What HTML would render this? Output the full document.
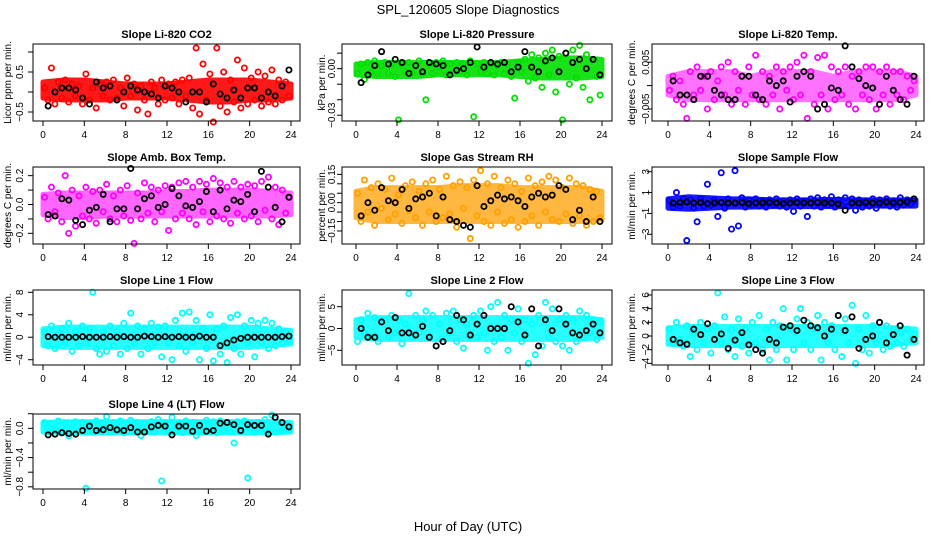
<!DOCTYPE html>
<html><head><meta charset="utf-8"><style>
html,body{margin:0;padding:0;background:#fff}
svg{display:block;font-family:"Liberation Sans",sans-serif}
</style></head><body>
<svg id="chart" width="936" height="540" viewBox="0 0 936 540" xmlns="http://www.w3.org/2000/svg">
<text x="468" y="14" font-size="13" text-anchor="middle">SPL_120605  Slope Diagnostics</text>
<text x="468" y="531" font-size="13" text-anchor="middle">Hour of Day (UTC)</text>
</svg>
<script>
const xTicks=[0,4,8,12,16,20,24];
const bandHours=[0,2,4,6,8,10,12,14,16,18,20,22,24];
const co2Col=[0.1,-0.2,0.6,-0.3,0.25,-0.15,0.3,-0.25,0.2,-0.1,0.15,-0.3,0.45,-0.2,0.1,-0.4,0.2,-0.1,0.25,-0.2,0.3,-0.15,0.1,-0.35,0.35,-0.1,0.2,-0.45,0.15,-0.2,-0.55,0.25,0.1,-0.3,0.3,-0.2,0.2,-0.15,0.25,-0.3,0.3,-0.1,0.35,-0.4,1.1,-0.55,0.7,-0.2,0.45,-0.75,1.1,-0.35,0.5,-0.5,0.3,-0.25,0.8,-0.4,0.6,-0.3,0.35,-0.2,0.5,-0.35,0.4,-0.25,0.55,-0.3,0.3,-0.2,0.25,-0.1];
const co2Blk=[-0.35,0,0.1,0.1,0.05,-0.15,-0.3,0.25,0.1,0.15,-0.2,0,0.15,0.05,0,-0.05,-0.15,0.15,0.1,0,-0.25,0,0,-0.25,0.2,-0.05,-0.15,0.05,-0.15,0.1,0.1,-0.15,0,-0.1,0.15,0.55];
const co2Hi=[0.25,0.3,0.3,0.25,0.2,0.2,0.2,0.25,0.3,0.3,0.3,0.25,0.2];
const co2Lo=[-0.15,-0.2,-0.2,-0.2,-0.15,-0.15,-0.15,-0.2,-0.25,-0.25,-0.2,-0.2,-0.15];
const presCol=[-0.003,0.003,-0.007,0.004,-0.002,0.005,-0.004,0.002,0.004,-0.003,0.003,-0.005,-0.033,0.003,-0.002,0.004,-0.003,0.002,0.005,-0.004,-0.02,0.003,-0.003,0.004,-0.002,0.005,-0.004,0.003,-0.003,0.004,-0.002,0.003,-0.004,0.005,-0.031,0.003,-0.002,0.004,-0.003,0.003,-0.004,0.002,0.004,-0.003,0.003,-0.005,-0.019,0.004,-0.002,0.006,-0.008,0.009,-0.006,0.007,-0.012,0.01,-0.004,0.012,-0.015,0.008,-0.033,0.01,-0.01,0.012,-0.006,0.015,-0.012,0.009,-0.02,0.006,-0.005,-0.017];
const presBlk=[-0.009,-0.004,0.002,0.011,0.003,0.006,0.004,-0.003,0.002,-0.002,0.004,0.003,0.002,-0.004,-0.001,0.0,0.004,0.014,0.001,0.004,0.003,0.004,-0.002,0.001,0.011,0.001,-0.002,0.005,0.007,-0.002,0.01,0.004,0.006,0.0,0.006,-0.004];
const presHi=[0.003,0.004,0.004,0.004,0.004,0.004,0.004,0.004,0.005,0.006,0.007,0.007,0.006];
const presLo=[-0.004,-0.005,-0.005,-0.005,-0.004,-0.004,-0.004,-0.004,-0.005,-0.006,-0.006,-0.006,-0.005];
const tempCol=[-0.001,0.002,-0.003,0.001,-0.004,-0.007,0.003,-0.002,0.004,-0.001,0.002,-0.005,0.003,-0.003,0.001,0.004,-0.002,0.005,-0.004,0.003,-0.001,0.002,-0.004,0.004,-0.002,0.0065,-0.003,0.003,-0.004,0.002,-0.002,0.004,-0.005,0.003,-0.001,0.004,-0.003,0.005,-0.002,0.0065,-0.007,0.003,-0.004,0.006,-0.002,0.0065,-0.005,0.004,-0.003,0.003,-0.002,0.004,-0.004,0.002,-0.005,0.003,-0.002,0.004,-0.003,0.004,-0.005,0.003,-0.002,0.004,-0.004,0.003,-0.002,0.003,-0.003,0.002,-0.001,0.001];
const tempBlk=[0.001,-0.002,-0.002,-0.003,0.002,0.002,-0.001,-0.002,-0.003,-0.003,0.002,0.002,-0.002,-0.003,0.001,0.0,0.001,-0.0035,0.002,0.003,0.002,-0.005,-0.004,-0.0005,-0.001,0.0085,0.004,0.0015,0.0,-0.0005,-0.004,0.002,-0.001,-0.003,-0.004,0.002];
const tempHi=[0.002,0.003,0.003,0.003,0.002,0.003,0.003,0.003,0.002,0.003,0.003,0.003,0.002];
const tempLo=[-0.002,-0.003,-0.003,-0.003,-0.003,-0.003,-0.003,-0.003,-0.003,-0.003,-0.003,-0.003,-0.002];
const ambCol=[0.05,-0.1,0.12,-0.05,0.08,-0.12,0.2,-0.2,0.1,-0.15,0.06,-0.08,0.12,-0.1,0.09,-0.13,0.1,-0.05,0.14,-0.1,0.06,-0.12,0.1,-0.08,0.13,-0.11,-0.27,0.08,-0.1,0.15,-0.06,0.12,-0.12,0.1,-0.05,0.13,-0.18,0.12,-0.1,0.15,-0.06,0.16,-0.1,0.12,-0.14,0.16,-0.05,0.14,-0.12,0.18,-0.08,0.15,-0.1,0.12,-0.13,0.16,-0.06,0.12,-0.1,0.14,-0.08,0.13,-0.12,0.16,-0.04,0.19,-0.1,0.12,-0.14,0.1,-0.06,0.05];
const ambBlk=[-0.07,-0.08,0.04,0.03,-0.11,-0.14,-0.04,-0.02,0.07,-0.12,-0.03,-0.03,0.25,-0.03,0.04,0.06,-0.02,0.0,0.11,0.06,-0.01,-0.02,0.02,0.09,-0.05,0.1,-0.03,0.03,0.02,0.07,-0.05,0.23,0.12,-0.02,-0.12,0.05];
const ambHi=[0.07,0.08,0.08,0.08,0.08,0.08,0.09,0.09,0.1,0.1,0.1,0.09,0.08];
const ambLo=[-0.07,-0.09,-0.09,-0.08,-0.08,-0.08,-0.08,-0.08,-0.08,-0.08,-0.08,-0.08,-0.07];
const rhCol=[0.05,-0.1,0.12,-0.05,0.08,-0.12,0.1,-0.03,0.07,-0.09,0.13,-0.06,0.04,-0.11,0.09,-0.04,0.11,-0.08,0.06,-0.12,0.1,-0.05,0.12,-0.1,0.07,-0.08,0.14,-0.06,0.09,-0.13,0.11,-0.03,0.08,-0.19,0.12,-0.07,0.17,-0.1,0.1,-0.12,0.14,-0.05,0.08,-0.11,0.12,-0.09,0.1,-0.13,0.06,-0.1,0.13,-0.07,0.09,-0.12,0.11,-0.05,0.14,-0.09,0.12,-0.1,0.08,-0.06,0.13,-0.11,0.1,-0.07,0.09,-0.12,0.07,-0.1,0.06,-0.08];
const rhBlk=[-0.07,0.0,-0.04,0.08,0.01,0.0,0.07,-0.03,0.02,0.03,0.05,-0.07,0.03,-0.09,-0.1,-0.12,-0.13,0.09,-0.02,0.01,0.04,0.02,0.03,0.01,-0.02,0.03,0.05,0.03,0.04,0.09,0.07,-0.09,-0.04,-0.1,0.03,-0.1];
const rhHi=[0.06,0.08,0.08,0.08,0.08,0.09,0.09,0.09,0.08,0.08,0.08,0.08,0.06];
const rhLo=[-0.08,-0.1,-0.1,-0.1,-0.1,-0.1,-0.1,-0.1,-0.1,-0.1,-0.1,-0.1,-0.09];
const sfCol=[0.2,-0.4,1.0,-0.3,0.4,-3.6,0.3,-0.5,-1.8,0.4,-0.3,1.8,-0.2,0.3,-1.3,2.9,-0.5,0.4,-2.5,3.1,-2.2,0.5,-0.4,0.3,-0.2,0.4,-0.3,0.2,-0.4,0.3,-0.2,0.4,-0.3,0.2,-0.4,0.3,-0.8,0.4,-0.3,0.2,-1.3,0.4,-0.3,0.5,-0.4,0.3,-0.2,0.6,-0.4,0.3,-0.2,0.5,-0.3,0.4,-0.7,0.3,-0.4,0.2,-0.3,0.4,-0.5,0.3,-0.2,0.4,-0.3,0.2,-0.4,0.5,-0.2,0.3,-0.1,0.2];
const sfBlk=[0.0,0.05,0.1,0.0,0.05,-0.05,0.0,0.05,0.0,0.0,0.05,-0.05,0.0,0.0,0.05,0.0,-0.05,0.0,0.05,0.0,0.0,0.05,0.0,0.0,-0.1,-0.7,0.0,0.0,0.05,0.0,0.0,0.1,0.0,0.05,0.1,0.4];
const sfHi=[0.4,0.6,0.5,0.4,0.4,0.3,0.3,0.3,0.35,0.3,0.3,0.3,0.3];
const sfLo=[-0.5,-0.6,-0.5,-0.4,-0.4,-0.35,-0.35,-0.35,-0.35,-0.35,-0.3,-0.3,-0.3];
const l1Col=[1,-1.5,2,-2,0.5,1.5,-1,2.5,-2.5,1,-1.5,2,-1,1.5,8,-2,-3,1,-2.5,2,-1.5,1,-3,2.5,-2,4.3,-1,2,-3,1.5,-2,2.5,-1,1.8,-3.5,2,-1,-4,3,-1.5,4.3,-2.5,4.5,-1,3,-4,1.5,-2,4,-4.2,1.5,-3,2,-4.5,3.5,-2,4,-3,2,-1,3,-3.5,2.5,-1,3,-2,2.5,-1.5,1.5,-1,1,-0.5];
const l1Blk=[0.1,0,0,0,0,0.1,0,0,0,0.1,0,0.1,0,0,0.2,0.1,0,0.1,0,0.1,0,0,0.2,0,0,-1.5,-1,-0.5,-0.2,0,0,0,0,0,0.1,0.2];
const l1Hi=[1.5,1.8,1.8,1.8,1.8,1.8,1.8,1.8,1.8,1.8,1.8,1.5,1.2];
const l1Lo=[-1.5,-1.8,-1.8,-1.8,-1.8,-1.8,-1.8,-1.8,-1.8,-1.8,-1.8,-1.5,-1.2];
const l2Col=[-3,2,-1,3.5,-2,2.5,-3,1.5,2,-2,3,-1,2,-3.5,1,8,-2,3,-1,2,4,-2,3,-4,1,-3,3.5,-1,4,-3,2,-4.5,1,-2,3,-2,4,-1,-5,5,-3,6,-2,3,-5,2,-1,4.5,-3,2,-8,1,-6,3,-4,6,-2,4.5,-3,2,-4,3,-5,2,-3,4,-2,3,-1,2,-2.5,1.5];
const l2Blk=[0,-2,-2,1.5,-0.5,2.5,-1,-1,-1.5,0.5,-2,-4,-3,-0.5,3,2,-1.5,1,3,0,0,0,5,1.5,-1.5,4.5,-4,2,-0.5,4.5,1,-1,-1.5,-0.5,1,-1];
const l2Hi=[2,2.5,2.5,2.5,2.5,2.5,2.5,2.5,2.5,2.5,2.5,2.5,2];
const l2Lo=[-2,-2.5,-2.5,-2.5,-2.5,-2.5,-2.5,-2.5,-2.5,-2.5,-2.5,-2.5,-2];
const l3Col=[1,-1,2,-0.5,-1.5,1.5,-3,0.5,-2,2,-1,1,-2.5,1.5,6.3,-1,2.8,-2,1,-3,2.5,-1.5,1,-2.5,2,-1,3,-2,1,-3.5,2,-2,1.5,4,-3.5,1,-2,2.5,4,-1,2,-2,1,3,-3.5,2,-1,1.5,-2,3,-3,2.5,-1,4.5,-4,1,-2,3,-2.5,1.5,-1,2,-2,1.5,-1.5,1,-1,0.5,-1.5,1,-0.5,0.3];
const l3Blk=[-0.5,-1,-1.2,1,0.2,1.8,-0.5,0.3,-1.8,-0.6,0.5,-1.3,-2,-2.5,-0.5,-1,1.3,1.5,0.8,2.3,1.5,1.2,0,1,3,0.8,2.8,-1.8,-0.5,0,2,-1,0.2,1.5,-2.8,-0.5];
const l3Hi=[1.2,1.4,1.4,1.4,1.4,1.4,1.4,1.4,1.4,1.4,1.4,1.2,1];
const l3Lo=[-1.2,-1.4,-1.4,-1.4,-1.4,-1.4,-1.4,-1.4,-1.4,-1.4,-1.4,-1.2,-1];
const l4Col=[0.08,-0.05,0.06,-0.03,0.1,-0.06,0.07,-0.1,0.05,0.09,-0.04,0.08,-0.82,0.06,-0.05,0.1,-0.03,0.07,0.16,-0.05,0.08,-0.04,0.1,-0.06,0.06,0.11,-0.05,0.08,-0.1,0.07,-0.03,0.09,-0.05,0.12,-0.72,0.08,-0.05,0.15,-0.03,0.07,-0.06,0.1,-0.04,0.08,-0.1,0.06,-0.05,0.11,-0.04,0.09,-0.06,0.1,-0.03,0.08,-0.05,-0.2,0.09,-0.04,0.1,-0.68,0.07,-0.05,0.08,-0.04,0.12,-0.06,0.18,-0.05,0.08,-0.03,0.06,-0.02];
const l4Blk=[-0.09,-0.08,-0.06,-0.07,-0.08,-0.03,0.03,-0.03,-0.02,0.01,-0.02,-0.03,0.01,-0.05,-0.05,0.02,0.04,0.03,-0.09,0.03,0.03,-0.04,0.04,-0.04,-0.03,0.07,0.08,0.05,-0.03,0.05,0.04,0.04,-0.08,0.15,0.08,0.02];
const l4Hi=[0.08,0.09,0.09,0.09,0.09,0.09,0.09,0.09,0.09,0.09,0.09,0.09,0.08];
const l4Lo=[-0.05,-0.06,-0.06,-0.06,-0.06,-0.06,-0.06,-0.06,-0.06,-0.06,-0.06,-0.06,-0.05];

const NS='http://www.w3.org/2000/svg';
const svg=document.getElementById('chart');
function mk(tag,attrs,parent){const e=document.createElementNS(NS,tag);for(const k in attrs)e.setAttribute(k,attrs[k]);(parent||svg).appendChild(e);return e;}
const cols=[{l:33,r:300,h0:43,h24:291,tx:20,lx:8},{l:342,r:612,h0:356,h24:602,tx:332,lx:322},{l:652,r:924,h0:668,h24:916,tx:646,lx:632}];
const rows=[{t:44,b:121},{t:167,b:244},{t:290,b:365},{t:414,b:489}];
const panels=[
 {name:'co2',title:'Slope Li-820 CO2',ylab:'Licor ppm per min.',c:0,r:0,ytop:1.2,ybot:-0.725,ticks:[-0.5,0,0.5,1.0],labels:{'-0.5':'\u22120.5','0.5':'0.5'},col:co2Col,blk:co2Blk,hi:co2Hi,lo:co2Lo,color:'#ff0000',op:0.9},
 {name:'pressure',title:'Slope Li-820 Pressure',ylab:'kPa per min.',c:1,r:0,ytop:0.0159,ybot:-0.0337,ticks:[-0.03,-0.02,-0.01,0,0.01],labels:{'-0.03':'\u22120.03','0':'0.00'},col:presCol,blk:presBlk,hi:presHi,lo:presLo,color:'#00e000',op:0.9},
 {name:'temp',title:'Slope Li-820 Temp.',ylab:'degrees C per min.',c:2,r:0,ytop:0.0089,ybot:-0.00757,ticks:[-0.005,0,0.005],labels:{'-0.005':'\u22120.005','0.005':'0.005'},col:tempCol,blk:tempBlk,hi:tempHi,lo:tempLo,color:'#ff00ff',op:0.55},
 {name:'amb-box',title:'Slope Amb. Box Temp.',ylab:'degrees C per min.',c:0,r:1,ytop:0.26,ybot:-0.274,ticks:[-0.2,-0.1,0,0.1,0.2],labels:{'-0.2':'\u22120.2','0':'0.0','0.2':'0.2'},col:ambCol,blk:ambBlk,hi:ambHi,lo:ambLo,color:'#ff00ff',op:0.6},
 {name:'rh',title:'Slope Gas Stream RH',ylab:'percent per min.',c:1,r:1,ytop:0.189,ybot:-0.219,ticks:[-0.15,-0.1,-0.05,0,0.05,0.1,0.15],labels:{'-0.15':'\u22120.15','0':'0.00','0.15':'0.15'},col:rhCol,blk:rhBlk,hi:rhHi,lo:rhLo,color:'#ffa000',op:0.75},
 {name:'sample-flow',title:'Slope Sample Flow',ylab:'ml/min per min.',c:2,r:1,ytop:3.45,ybot:-3.93,ticks:[-3,-1,1,3],labels:{'-3':'\u22123','-1':'\u22121','1':'1','3':'3'},col:sfCol,blk:sfBlk,hi:sfHi,lo:sfLo,color:'#0000ff',op:0.9},
 {name:'line1',title:'Slope Line 1 Flow',ylab:'ml/min per min.',c:0,r:2,ytop:8.41,ybot:-4.94,ticks:[-4,0,4,8],labels:{'-4':'\u22124','0':'0','4':'4','8':'8'},col:l1Col,blk:l1Blk,hi:l1Hi,lo:l1Lo,color:'#00ffff',op:0.85},
 {name:'line2',title:'Slope Line 2 Flow',ylab:'ml/min per min.',c:1,r:2,ytop:8.83,ybot:-8.37,ticks:[-5,0,5],labels:{'-5':'\u22125','0':'0','5':'5'},col:l2Col,blk:l2Blk,hi:l2Hi,lo:l2Lo,color:'#00ffff',op:0.85},
 {name:'line3',title:'Slope Line 3 Flow',ylab:'ml/min per min.',c:2,r:2,ytop:6.73,ybot:-4.24,ticks:[-4,-2,0,2,4,6],labels:{'-4':'\u22124','-2':'\u22122','0':'0','2':'2','4':'4','6':'6'},col:l3Col,blk:l3Blk,hi:l3Hi,lo:l3Lo,color:'#00ffff',op:0.85},
 {name:'line4',title:'Slope Line 4 (LT) Flow',ylab:'ml/min per min.',c:0,r:3,ytop:0.196,ybot:-0.83,ticks:[-0.8,-0.6,-0.4,-0.2,0,0.2],labels:{'-0.8':'\u22120.8','-0.4':'\u22120.4','0':'0.0'},col:l4Col,blk:l4Blk,hi:l4Hi,lo:l4Lo,color:'#00ffff',op:0.9}
];
panels.forEach(p=>{
 const C=cols[p.c],R=rows[p.r];
 const g=mk('g',{});
 
 
 const xs=h=>C.h0+(C.h24-C.h0)*h/24;
 const ys=v=>R.t+(p.ytop-v)/(p.ytop-p.ybot)*(R.b-R.t);
 const t=mk('text',{x:(C.l+C.r)/2,y:R.t-6,'font-size':11,'font-weight':'bold','text-anchor':'middle'},g);
 t.textContent=p.title;
 
 
 const pts=bandHours.map((h,i)=>xs(h)+','+ys(p.hi[i])).concat(bandHours.slice().reverse().map((h,j)=>xs(h)+','+ys(p.lo[bandHours.length-1-j])));
 const band=mk('polygon',{points:pts.join(' '),fill:p.color,stroke:p.color,'stroke-width':5,'stroke-linejoin':'round',opacity:p.op},g);
 
 
 const sc=mk('g',{},g);
 
 
 const n=p.col.length;
 p.col.forEach((v,i)=>{
  const c=mk('circle',{cx:xs(i*24/n+0.15),cy:ys(v),r:2.6,fill:'none',stroke:p.color,'stroke-width':1.8},sc);
  
  
 });
 const m=p.blk.length;
 p.blk.forEach((v,i)=>{
  const c=mk('circle',{cx:xs(0.5+i*23.3/(m-1)),cy:ys(v),r:2.6,fill:'none',stroke:'#000','stroke-width':1.8},sc);
  
  
 });
 const box=mk('rect',{x:C.l,y:R.t,width:C.r-C.l,height:R.b-R.t,fill:'none',stroke:'#000','stroke-width':1},g);
 
 
 xTicks.forEach(h=>{
  mk('line',{x1:xs(h),x2:xs(h),y1:R.b,y2:R.b+5,stroke:'#000'},g);
  const tl=mk('text',{x:xs(h),y:R.b+17,'font-size':10,'text-anchor':'middle'},g);
  tl.textContent=h;
  
  
 });
 p.ticks.forEach(v=>{
  const y=ys(v);
  mk('line',{x1:C.l-5,x2:C.l,y1:y,y2:y,stroke:'#000'},g);
  const lab=p.labels[String(v)];
  if(lab!==undefined){
   const tl=mk('text',{x:C.tx,y:y,'font-size':10,'text-anchor':'middle',transform:'rotate(-90 '+C.tx+' '+y+')',dy:3},g);
   tl.textContent=lab;
   
   
  }
 });
 const yc=(R.t+R.b)/2;
 const yl=mk('text',{x:C.lx,y:yc,'font-size':10,'text-anchor':'middle',transform:'rotate(-90 '+C.lx+' '+yc+')',dy:3},g);
 yl.textContent=p.ylab;
 
 
});
</script>
</body></html>
